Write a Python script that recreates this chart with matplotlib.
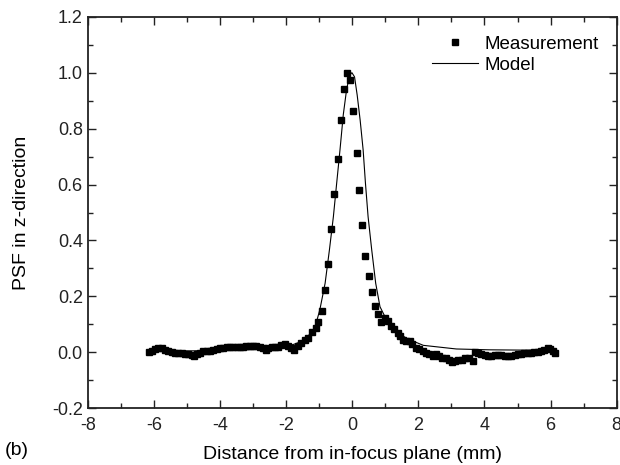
import matplotlib
matplotlib.use('Agg')
import matplotlib.pyplot as plt
from matplotlib.ticker import MultipleLocator

plt.rcParams['font.family'] = ['Liberation Sans', 'DejaVu Sans']
plt.rcParams['axes.unicode_minus'] = False

meas_x = [-6.16, -6.06, -5.96, -5.86, -5.76, -5.66, -5.56, -5.46, -5.36, -5.26,
          -5.16, -5.06, -4.96, -4.86, -4.78, -4.70, -4.60, -4.50, -4.40, -4.30,
          -4.20, -4.10, -4.00, -3.90, -3.80, -3.70, -3.60, -3.50, -3.40, -3.30,
          -3.20, -3.10, -3.00, -2.90, -2.80, -2.70, -2.62, -2.54, -2.44, -2.34,
          -2.24, -2.14, -2.04, -1.94, -1.85, -1.76, -1.65, -1.55, -1.43, -1.33,
          -1.23, -1.11, -1.03, -0.92, -0.83, -0.73, -0.64, -0.54, -0.44, -0.35,
          -0.25, -0.17, -0.07, 0.03, 0.13, 0.21, 0.30, 0.40, 0.50, 0.60,
          0.69, 0.79, 0.87, 0.99, 1.07, 1.17, 1.27, 1.37, 1.45, 1.54,
          1.64, 1.74, 1.82, 1.92, 2.02, 2.13, 2.23, 2.33, 2.43, 2.53,
          2.63, 2.73, 2.83, 2.93, 3.01, 3.11, 3.21, 3.31, 3.41, 3.52,
          3.64, 3.71, 3.81, 3.91, 4.01, 4.11, 4.21, 4.31, 4.41, 4.51,
          4.61, 4.71, 4.81, 4.91, 5.01, 5.11, 5.21, 5.31, 5.41, 5.51,
          5.61, 5.71, 5.81, 5.91, 5.98, 6.06, 6.14]
meas_y = [0.000, 0.006, 0.011, 0.014, 0.014, 0.009, 0.003, 0.000, -0.002, -0.004,
          -0.004, -0.006, -0.007, -0.010, -0.013, -0.006, -0.002, 0.003, 0.003, 0.006,
          0.009, 0.011, 0.014, 0.014, 0.018, 0.020, 0.020, 0.020, 0.018, 0.020,
          0.022, 0.024, 0.024, 0.022, 0.020, 0.017, 0.009, 0.017, 0.020, 0.018,
          0.020, 0.026, 0.030, 0.024, 0.017, 0.010, 0.022, 0.033, 0.044, 0.053,
          0.073, 0.088, 0.108, 0.148, 0.222, 0.316, 0.440, 0.565, 0.691, 0.831,
          0.940, 1.000, 0.974, 0.863, 0.714, 0.580, 0.454, 0.346, 0.273, 0.215,
          0.167, 0.137, 0.109, 0.124, 0.112, 0.094, 0.083, 0.070, 0.060, 0.044,
          0.041, 0.041, 0.029, 0.017, 0.011, 0.003, -0.003, -0.006, -0.012, -0.007,
          -0.013, -0.019, -0.022, -0.027, -0.033, -0.030, -0.027, -0.028, -0.022, -0.020,
          -0.031, 0.000, -0.003, -0.006, -0.009, -0.013, -0.013, -0.011, -0.009, -0.011,
          -0.012, -0.013, -0.013, -0.009, -0.006, -0.005, -0.003, -0.002, -0.002, 0.000,
          0.000, 0.004, 0.008, 0.014, 0.012, 0.004, -0.001]

# Model curve
model_x = [-6.2, -5.0, -4.0, -3.0, -2.5, -2.0, -1.73, -1.43, -1.13, -0.98,
           -0.82, -0.69, -0.57, -0.47, -0.37, -0.27, -0.17, -0.08, -0.01, 0.07,
           0.15, 0.24, 0.33, 0.40, 0.48, 0.59, 0.71, 0.84, 1.09, 1.40,
           1.64, 2.15, 3.15, 4.15, 5.15, 6.15]
model_y = [0.004, 0.005, 0.007, 0.010, 0.014, 0.021, 0.030, 0.044, 0.088, 0.152,
           0.247, 0.366, 0.485, 0.605, 0.724, 0.850, 0.940, 0.990, 1.000, 0.985,
           0.920, 0.830, 0.724, 0.605, 0.485, 0.366, 0.247, 0.163, 0.104, 0.070,
           0.050, 0.025, 0.012, 0.009, 0.008, 0.007]

fig = plt.figure(figsize=(6.2, 4.65), dpi=100)
ax = fig.add_axes([0.1415, 0.122, 0.8532, 0.842])

ax.plot(meas_x, meas_y, linestyle='none', marker='s', markersize=4.2,
        color='black', label='Measurement')
ax.plot(model_x, model_y, color='black', linewidth=0.8, label='Model')

ax.set_xlim(-8, 8)
ax.set_ylim(-0.2, 1.2)
ax.xaxis.set_major_locator(MultipleLocator(2))
ax.xaxis.set_minor_locator(MultipleLocator(1))
ax.yaxis.set_minor_locator(MultipleLocator(0.1))
ax.set_yticks([-0.2, 0.0, 0.2, 0.4, 0.6, 0.8, 1.0, 1.2])
ax.set_yticklabels(['-0.2', '0.0', '0.2', '0.4', '0.6', '0.8', '1.0', '1.2'])

ax.tick_params(which='both', direction='in', top=True, right=True,
               labelsize=13, width=1.0, colors='#222222')
ax.tick_params(which='major', length=6)
ax.tick_params(axis='x', which='major', pad=6)
ax.tick_params(which='minor', length=3.5)
for s in ax.spines.values():
    s.set_linewidth(1.3)
    s.set_color('#222222')

ax.set_xlabel('Distance from in-focus plane (mm)', fontsize=14, labelpad=9)
ax.set_ylabel('PSF in z-direction', fontsize=14, labelpad=16)

ax.legend(loc='upper right', bbox_to_anchor=(0.99, 0.985), frameon=False,
          fontsize=13.5, handlelength=2.5, handletextpad=0.3, labelspacing=0.2,
          borderaxespad=0.3)

fig.text(0.008, 0.022, '(b)', fontsize=14)

fig.savefig('out.png', dpi=100)
